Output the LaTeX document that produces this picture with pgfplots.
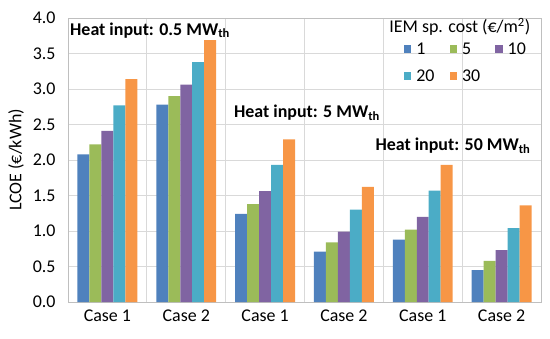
\documentclass[border=0pt]{standalone}
\usepackage{fontspec}
\setmainfont{Carlito}
\usepackage{pgfplots}
\pgfplotsset{compat=1.18}
\definecolor{c1}{HTML}{4F81BD}
\definecolor{c2}{HTML}{9BBB59}
\definecolor{c3}{HTML}{8064A2}
\definecolor{c4}{HTML}{4BACC6}
\definecolor{c5}{HTML}{F79646}
\definecolor{gridc}{HTML}{D9D9D9}
\definecolor{axc}{HTML}{BFBFBF}
\newcommand{\fs}{\fontsize{18}{22}\selectfont}
\begin{document}
\begin{tikzpicture}
\begin{axis}[
  scale only axis, width=473bp, height=284bp,
  ymin=0, ymax=4, ytick={0,0.5,...,4},
  xmin=-0.5, xmax=5.5, xtick={0,1,2,3,4,5},
  xticklabels={Case 1,Case 2,Case 1,Case 2,Case 1,Case 2},
  minor xtick={0.5,1.5,2.5,3.5,4.5},
  xminorgrids, ymajorgrids,
  grid style={draw=gridc, line width=0.9pt},
  minor grid style={draw=gridc, line width=0.9pt},
  axis line style={draw=axc, line width=0.9pt},
  major tick length=0, minor tick length=0,
  ybar=0pt, bar width=0.152,
  /pgf/number format/assume math mode=true,
  yticklabel style={/pgf/number format/fixed, /pgf/number format/fixed zerofill, /pgf/number format/precision=1, xshift=-9bp},
  xticklabel style={yshift=-4bp},
  tick label style={font=\fs},
  ylabel={LCOE (€/kWh)},
  ylabel style={font=\fs, yshift=2bp},
  legend columns=3,
  legend style={at={(axis cs:3.72,3.71)}, anchor=north west, draw=none, fill=none,
    font=\fs, row sep=10bp,
    /tikz/every odd column/.append style={column sep=3bp},
    /tikz/every even column/.append style={column sep=13bp}},
  legend image code/.code={\fill[#1] (0bp,-3.5bp) rectangle (7.5bp,4bp);},
  legend cell align=left,
  clip=false,
]
\addplot[fill=c1, draw=none] coordinates {(0,2.08) (1,2.78) (2,1.24) (3,0.71) (4,0.88) (5,0.45)};
\addplot[fill=c2, draw=none] coordinates {(0,2.22) (1,2.90) (2,1.38) (3,0.84) (4,1.02) (5,0.58)};
\addplot[fill=c3, draw=none] coordinates {(0,2.41) (1,3.06) (2,1.56) (3,0.99) (4,1.20) (5,0.73)};
\addplot[fill=c4, draw=none] coordinates {(0,2.77) (1,3.38) (2,1.93) (3,1.30) (4,1.57) (5,1.04)};
\addplot[fill=c5, draw=none] coordinates {(0,3.14) (1,3.69) (2,2.29) (3,1.62) (4,1.93) (5,1.36)};
\legend{1,5,10,20,30}
\node[anchor=base, inner sep=0, font=\fs] at (axis cs:4.47,3.79) {IEM sp. cost (€/m\textsuperscript{2})};
\node[anchor=base west, inner sep=0, font=\fs\bfseries] at (axis cs:-0.475,3.76) {Heat input: 0.5 MW\textsubscript{th}};
\node[anchor=base west, inner sep=0, font=\fs\bfseries] at (axis cs:1.604,2.60) {Heat input: 5 MW\textsubscript{th}};
\node[anchor=base east, inner sep=0, font=\fs\bfseries] at (axis cs:5.368,2.13) {Heat input: 50 MW\textsubscript{th}};
\coordinate (ll) at (rel axis cs:0,0);
\coordinate (ur) at (rel axis cs:1,1);
\end{axis}
\path ([shift={(-68bp,-36.3bp)}]ll) rectangle ([shift={(9bp,18bp)}]ur);
\end{tikzpicture}
\end{document}
